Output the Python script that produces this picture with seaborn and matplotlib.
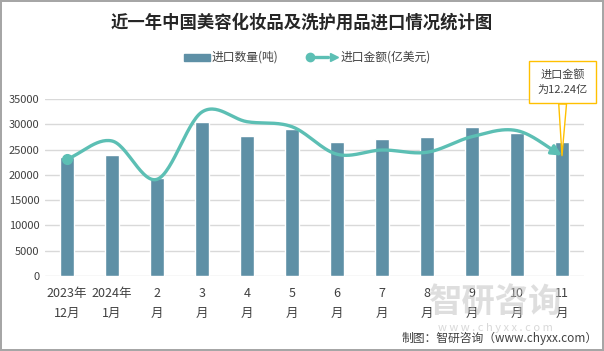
import numpy as np
import pandas as pd
import matplotlib
matplotlib.use("Agg")
import matplotlib.pyplot as plt
import seaborn as sns
from matplotlib.lines import Line2D
from matplotlib.patches import Rectangle

# 数据
meses = ["2023年\n12月", "2024年\n1月", "2\n月", "3\n月", "4\n月", "5\n月",
         "6\n月", "7\n月", "8\n月", "9\n月", "10\n月", "11\n月"]
quantidade = [23600, 24000, 19400, 30400, 27600, 29100,
              26400, 27000, 27400, 29400, 28200, 26400]  # 进口数量(吨)
valor = [11.87, 13.73, 9.83, 16.68, 15.69, 15.18,
         12.38, 12.81, 12.58, 14.17, 14.78, 12.24]  # 进口金额(亿美元)
yticks = [0, 5000, 10000, 15000, 20000, 25000, 30000, 35000]

df = pd.DataFrame({"mes": meses, "qtd": quantidade, "valor": valor})

cor_barra = "#5E90A6"
cor_linha = "#5CBFB4"
cor_texto = "#404040"

sns.set_style("white")
plt.rcParams["font.family"] = ["Noto Sans CJK SC", "DejaVu Sans"]


def suaviza(xs, ys, n=30):
    # curva suave tipo Excel (Catmull-Rom) passando pelos pontos
    xs = np.asarray(xs, float)
    ys = np.asarray(ys, float)
    px = np.concatenate([[2 * xs[0] - xs[1]], xs, [2 * xs[-1] - xs[-2]]])
    py = np.concatenate([[2 * ys[0] - ys[1]], ys, [2 * ys[-1] - ys[-2]]])
    ox, oy = [], []
    for i in range(1, len(px) - 2):
        t = np.linspace(0, 1, n, endpoint=False)
        for p, out in ((px, ox), (py, oy)):
            p0, p1, p2, p3 = p[i - 1], p[i], p[i + 1], p[i + 2]
            out.extend(0.5 * ((2 * p1) + (-p0 + p2) * t
                              + (2 * p0 - 5 * p1 + 4 * p2 - p3) * t ** 2
                              + (-p0 + 3 * p1 - 3 * p2 + p3) * t ** 3))
    ox.append(xs[-1])
    oy.append(ys[-1])
    return np.array(ox), np.array(oy)


fig = plt.figure(figsize=(6.04, 3.51), dpi=100)
fig.patch.set_edgecolor("#A6A6A6")
fig.patch.set_linewidth(1.5)
ax = fig.add_axes([0.0737, 0.2137, 0.894, 0.5043])

sns.barplot(data=df, x="mes", y="qtd", color=cor_barra, width=0.31,
            saturation=1, ax=ax)
ax.set_xlim(-0.5, len(meses) - 0.5)
ax.set_ylim(0, 35000)
ax.set_yticks(yticks)
ax.set_yticklabels([str(v) for v in yticks])
ax.set_xlabel("")
ax.set_ylabel("")
ax.grid(axis="y", color="#D9D9D9", linewidth=1)
ax.set_axisbelow(True)
for s in ax.spines.values():
    s.set_visible(False)
ax.tick_params(axis="both", length=0, colors=cor_texto, labelsize=8)
ax.tick_params(axis="x", pad=8, labelsize=9)
for lb in ax.get_xticklabels():
    lb.set_linespacing(1.7)

# linha no eixo secundario (oculto)
ax2 = ax.twinx()
ax2.set_ylim(0, 18)
ax2.axis("off")
pos = np.arange(len(valor))
sx, sy = suaviza(pos, valor)
ax2.plot(sx[:-6], sy[:-6], color=cor_linha, linewidth=2.4, solid_capstyle="round")
ax2.annotate("", xy=(sx[-1], sy[-1]), xytext=(sx[-7], sy[-7]),
             arrowprops=dict(arrowstyle="-|>,head_length=0.6,head_width=0.3",
                             color=cor_linha, lw=2.4, shrinkA=0, shrinkB=0))
ax2.plot(pos[0], valor[0], "o", color=cor_linha, markersize=7)

# caixa de anotacao
ax2.annotate("进口金额\n为12.24亿", xy=(pos[-1], valor[-1]),
             xytext=(pos[-1] + 0.02, 19.7), ha="center", va="center",
             fontsize=8, color=cor_texto, linespacing=1.6,
             annotation_clip=False,
             bbox=dict(boxstyle="square,pad=0.75", fc="white", ec="#FFC000", lw=1),
             arrowprops=dict(arrowstyle="wedge,tail_width=0.7", fc="white",
                             ec="#FFC000", lw=1, shrinkA=0, shrinkB=0))

# titulo
fig.text(0.5, 0.937, "近一年中国美容化妆品及洗护用品进口情况统计图",
         ha="center", va="center", fontsize=12.5, fontweight="bold", color="#262626")

# legenda manual
fig.patches.append(Rectangle((184 / 604, 1 - 61 / 351), 26 / 604, 7 / 351,
                             transform=fig.transFigure, color=cor_barra))
fig.text(212 / 604, 1 - 57 / 351, "进口数量(吨)", fontsize=8.5, va="center",
         color=cor_texto)
fig.lines.append(Line2D([308 / 604, 328 / 604], [1 - 57 / 351, 1 - 57 / 351],
                        transform=fig.transFigure, color=cor_linha, lw=2.4))
fig.lines.append(Line2D([310 / 604], [1 - 57 / 351], transform=fig.transFigure,
                        color=cor_linha, marker="o", markersize=6))
fig.lines.append(Line2D([334 / 604], [1 - 57 / 351], transform=fig.transFigure,
                        color=cor_linha, marker=">", markersize=6, lw=0))
fig.text(341 / 604, 1 - 57 / 351, "进口金额(亿美元)", fontsize=8.5, va="center",
         color=cor_texto)

# marca d'agua e fonte
fig.text(0.82, 0.135, "智研咨询", fontsize=24, color="#BFBFBF", alpha=0.5,
         ha="center", va="center", fontweight="bold", zorder=0)
fig.text(0.82, 0.065, "w w w . c h y x x . c o m", fontsize=8, color="#BFBFBF",
         alpha=0.6, ha="center", va="center", zorder=0)
fig.text(0.99, 0.035, "制图：智研咨询（www.chyxx.com）", fontsize=8.5,
         ha="right", va="center", color=cor_texto)

fig.savefig("out.png", dpi=100)
